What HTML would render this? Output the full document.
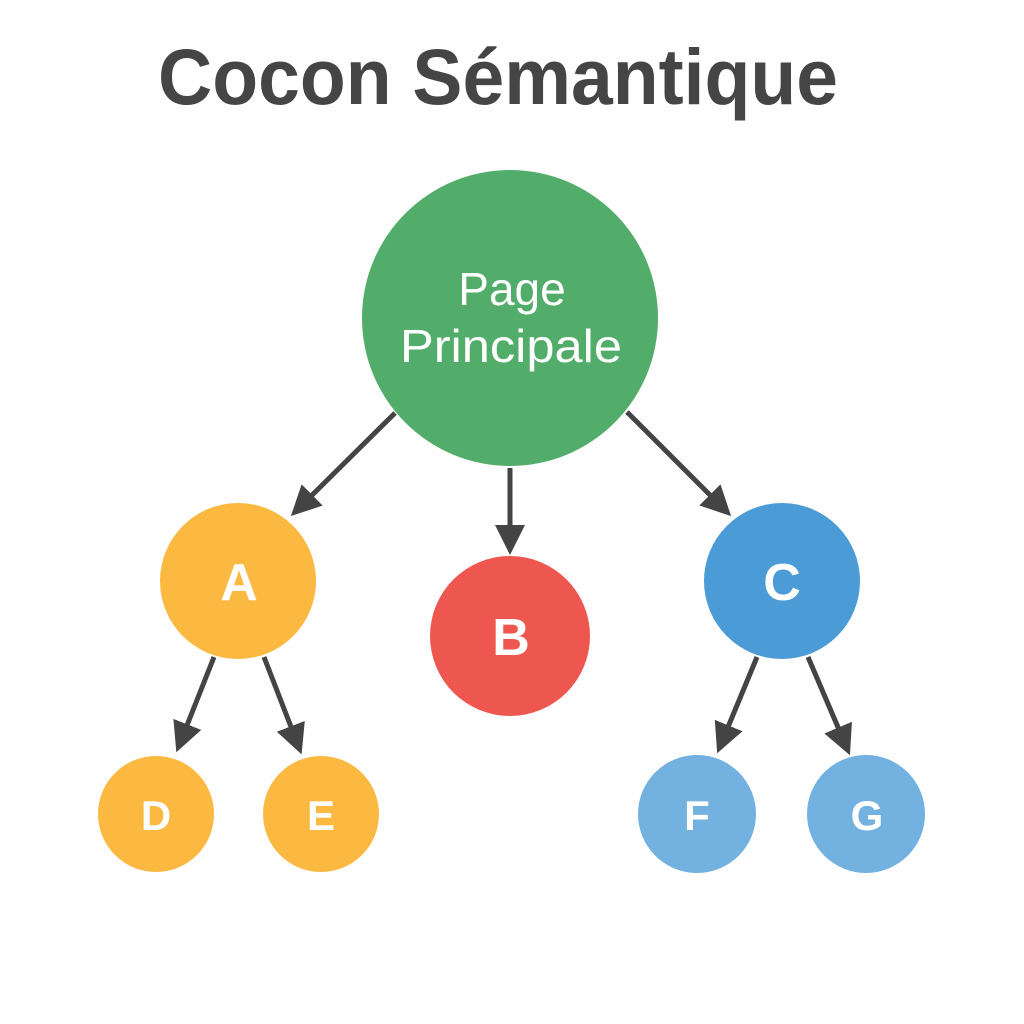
<!DOCTYPE html>
<html><head><meta charset="utf-8"><style>
html,body{margin:0;padding:0;background:#fefefe;}
svg{display:block}
text{font-family:"Liberation Sans",sans-serif;font-weight:bold}
</style></head><body>
<svg width="1024" height="1024" viewBox="0 0 1024 1024">
<defs>
<marker id="ah" markerWidth="6" markerHeight="6" refX="4" refY="3" orient="auto" markerUnits="strokeWidth">
<path d="M0,0 L6,3 L0,6 z" fill="#444"/>
</marker>
</defs>
<rect width="1024" height="1024" fill="#fefefe"/>
<text x="498" y="104" font-size="79" fill="#454545" text-anchor="middle" textLength="680" lengthAdjust="spacingAndGlyphs">Cocon Sémantique</text>
<g stroke="#444" stroke-width="5" fill="none" marker-end="url(#ah)">
<line x1="395" y1="413" x2="298" y2="509"/>
<line x1="510" y1="468" x2="510" y2="545"/>
<line x1="627" y1="412" x2="724" y2="509"/>
<line x1="214" y1="657" x2="180" y2="743"/>
<line x1="264" y1="657" x2="298" y2="745"/>
<line x1="757" y1="657" x2="721" y2="744"/>
<line x1="808" y1="657" x2="846" y2="746"/>
</g>
<circle cx="510" cy="318" r="148" fill="#53ad6a"/>
<circle cx="238" cy="581" r="78" fill="#fbb942"/>
<circle cx="510" cy="636" r="80" fill="#ee574f"/>
<circle cx="782" cy="581" r="78" fill="#4a9bd6"/>
<circle cx="156" cy="814" r="58" fill="#fbb942"/>
<circle cx="321" cy="814" r="58" fill="#fbb942"/>
<circle cx="697" cy="814" r="59" fill="#72b1e0"/>
<circle cx="866" cy="814" r="59" fill="#72b1e0"/>
<g fill="#fff" text-anchor="middle">
<text x="512" y="305" font-size="46" style="font-weight:normal">Page</text>
<text x="511" y="362" font-size="46" style="font-weight:normal" textLength="222" lengthAdjust="spacingAndGlyphs">Principale</text>
<text x="239" y="600" font-size="52">A</text>
<text x="511" y="655" font-size="52">B</text>
<text x="782" y="600" font-size="52">C</text>
<text x="156" y="830" font-size="42">D</text>
<text x="321" y="830" font-size="42">E</text>
<text x="697" y="830" font-size="42">F</text>
<text x="867" y="830" font-size="42">G</text>
</g>
</svg>
</body></html>
